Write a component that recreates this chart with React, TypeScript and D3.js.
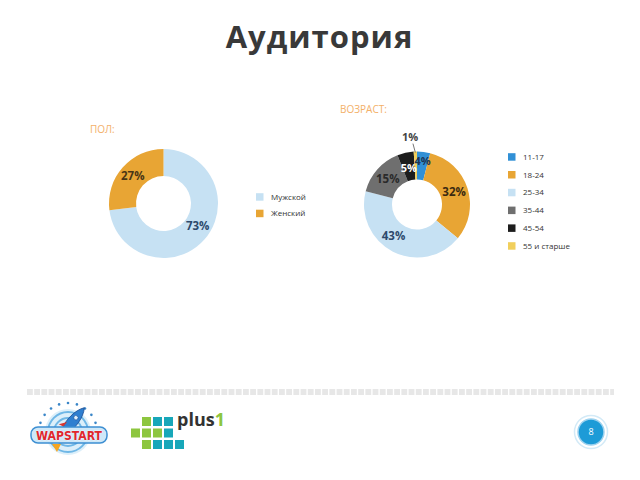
import React from "react";
import * as d3 from "d3";

// ---- data ----
const genderCategories = ["Мужской", "Женский"];
const genderValues = [73, 27];
const ageCategories = ["11-17", "18-24", "25-34", "35-44", "45-54", "55 и старше"];
const ageValues = [4, 32, 43, 15, 5, 1];
const titleText = "Аудитория";
const genderHeader = "ПОЛ:";
const ageHeader = "ВОЗРАСТ:";
const pageNumber = "8";

// ---- styles ----
const genderColors = ["#c6e1f3", "#e8a534"];
const genderLabelColors = ["#2d4a6c", "#4a3515"];
const ageColors = ["#3190d6", "#e8a534", "#c6e1f3", "#6f6f6f", "#1d1d1d", "#f1cf5c"];
const ageLabelColors = ["#1c3555", "#3b2a10", "#2d4a6c", "#2a2a2a", "#ffffff", "#444444"];
const labelAngleNudge: Record<string, number> = { "Мужской": -8, "25-34": 10 };
const FONT = "'Open Sans', 'DejaVu Sans', sans-serif";

type Donut = {
  cats: string[];
  vals: number[];
  colors: string[];
  labelColors: string[];
  cx: number;
  cy: number;
  R: number;
  r: number;
  outsideLabel?: string;
};

function polar(cx: number, cy: number, ang: number, rad: number): [number, number] {
  return [cx + rad * Math.sin(ang), cy - rad * Math.cos(ang)];
}

function DonutChart({ cats, vals, colors, labelColors, cx, cy, R, r, outsideLabel }: Donut) {
  const pie = d3.pie<number>().sort(null).value((d) => d);
  const arcs = pie(vals);
  const arc = d3.arc<d3.PieArcDatum<number>>().innerRadius(r).outerRadius(R);
  const mid = (R + r) / 2;
  return (
    <g>
      {arcs.map((a, i) => (
        <path key={"s" + i} d={arc(a) || ""} fill={colors[i]} transform={`translate(${cx},${cy})`} />
      ))}
      {arcs.map((a, i) => {
        const cat = cats[i];
        const m = (a.startAngle + a.endAngle) / 2 + ((labelAngleNudge[cat] || 0) * Math.PI) / 180;
        const text = `${vals[i]}%`;
        if (cat === outsideLabel) {
          const p1 = polar(cx, cy, m, R - 1);
          const p2 = polar(cx, cy, m - 0.035, R + 8);
          const pl = polar(cx, cy, m - 0.07, R + 15);
          return (
            <g key={"l" + i}>
              <line x1={p1[0]} y1={p1[1]} x2={p2[0]} y2={p2[1]} stroke="#555" strokeWidth={0.8} />
              <text x={pl[0]} y={pl[1]} textAnchor="middle" dy="0.35em" fontFamily={FONT} fontWeight={700} fontSize={11} fill={labelColors[i]}>
                {text}
              </text>
            </g>
          );
        }
        const small = vals[i] < 8;
        const pr = polar(cx, cy, m, small ? mid + (vals[i] < 5 ? 5 : -2) : mid);
        return (
          <text key={"l" + i} x={pr[0]} y={pr[1]} textAnchor="middle" dy="0.35em" fontFamily={FONT} fontWeight={700} fontSize={small ? 11 : 11.5} fill={labelColors[i]}>
            {text}
          </text>
        );
      })}
    </g>
  );
}

function Legend({ cats, colors, x, y, step }: { cats: string[]; colors: string[]; x: number; y: number; step: number }) {
  return (
    <g>
      {cats.map((c, i) => (
        <g key={c} transform={`translate(${x},${y + i * step})`}>
          <rect x={0} y={-3.8} width={7.5} height={7.5} fill={colors[i]} />
          <text x={15} y={0} dy="0.35em" fontFamily={FONT} fontSize={8} fill="#333">
            {c}
          </text>
        </g>
      ))}
    </g>
  );
}

function WapstartLogo() {
  const cx = 68, cy = 432;
  const stars = d3.range(9).map((i) => -1.25 + (i * 2.5) / 8);
  return (
    <g>
      {stars.map((a, i) => {
        const p = polar(cx, cy, a, 29);
        return <circle key={i} cx={p[0]} cy={p[1]} r={1.3} fill="#3a86c8" />;
      })}
      <circle cx={cx} cy={cy} r={23} fill="#dceffa" />
      <circle cx={cx} cy={cy} r={20} fill="none" stroke="#6fb7e6" strokeWidth={2} />
      <circle cx={cx} cy={cy} r={14} fill="none" stroke="#6fb7e6" strokeWidth={2} />
      <circle cx={cx} cy={cy} r={8} fill="#9fd1f0" />
      <g transform={`translate(${cx + 6},${cy - 12}) rotate(40)`}>
        <path d="M0,-16 C6,-8 6,6 4,12 L-4,12 C-6,6 -6,-8 0,-16 Z" fill="#2f7fd0" stroke="#1d4f95" strokeWidth={0.8} />
        <circle cx={0} cy={-3} r={2.2} fill="#dff1ff" stroke="#1d4f95" strokeWidth={0.6} />
        <path d="M-4,6 L-9,13 L-4,12 Z" fill="#d9352f" />
        <path d="M4,6 L9,13 L4,12 Z" fill="#d9352f" />
      </g>
      <path d="M52,444 L57,452 L61,444 Z" fill="#f5a623" />
      <rect x={31} y={427} width={76} height={16} rx={7} fill="#cfe8f8" stroke="#3d8fd2" strokeWidth={1.5} />
      <text x={69} y={439.5} textAnchor="middle" fontFamily="'DejaVu Sans', sans-serif" fontWeight={700} fontSize={11.5} fill="#e0262d" stroke="#fff" strokeWidth={0.6} paintOrder="stroke" textLength={66} lengthAdjust="spacingAndGlyphs">
        WAPSTART
      </text>
    </g>
  );
}

function Plus1Logo() {
  const green = "#8dc63f";
  const teal = "#17a7b9";
  const cells: [number, number, string][] = [
    [1, 0, green], [2, 0, teal], [3, 0, teal],
    [0, 1, green], [1, 1, green], [2, 1, green], [3, 1, teal],
    [1, 2, green], [2, 2, teal], [3, 2, teal], [4, 2, teal],
  ];
  return (
    <g>
      {cells.map(([c, r, col], i) => (
        <rect key={i} x={131 + c * 11} y={417 + r * 11.5} width={9} height={9} fill={col} />
      ))}
      <text x={177} y={426} fontFamily={FONT} fontWeight={700} fontSize={18} fill="#333">
        plus<tspan fill={green}>1</tspan>
      </text>
    </g>
  );
}

export default function App() {
  return (
    <svg width={640} height={480} viewBox="0 0 640 480" style={{ position: "absolute", left: 0, top: 0, background: "#fff" }}>
      <rect width={640} height={480} fill="#fff" />
      <text x={319.5} y={48} textAnchor="middle" fontFamily={FONT} fontWeight={700} fontSize={31} fill="#393939" letterSpacing={1}>
        {titleText}
      </text>

      <text x={90} y={133} fontFamily={FONT} fontSize={10} fill="#f3b06a">{genderHeader}</text>
      <text x={340} y={113} fontFamily={FONT} fontSize={10} fill="#f3b06a">{ageHeader}</text>

      <DonutChart cats={genderCategories} vals={genderValues} colors={genderColors} labelColors={genderLabelColors} cx={163.5} cy={203.5} R={54.5} r={27.5} />
      <Legend cats={genderCategories} colors={genderColors} x={256} y={197} step={16.5} />

      <DonutChart cats={ageCategories} vals={ageValues} colors={ageColors} labelColors={ageLabelColors} cx={417} cy={204.5} R={53} r={25} outsideLabel="55 и старше" />
      <Legend cats={ageCategories} colors={ageColors} x={508} y={157} step={17.8} />

      <line x1={27} y1={392} x2={614} y2={392} stroke="#e7e7e7" strokeWidth={6} strokeDasharray="5.8 1.4" />

      <WapstartLogo />
      <Plus1Logo />

      <circle cx={591} cy={432} r={16.5} fill="none" stroke="#d3eaf7" strokeWidth={1.5} />
      <circle cx={591} cy={432} r={13} fill="#1d9bd7" stroke="#9dd2ef" strokeWidth={1.5} />
      <text x={591} y={432} dy="0.35em" textAnchor="middle" fontFamily={FONT} fontSize={9} fill="#fff">{pageNumber}</text>
    </svg>
  );
}
